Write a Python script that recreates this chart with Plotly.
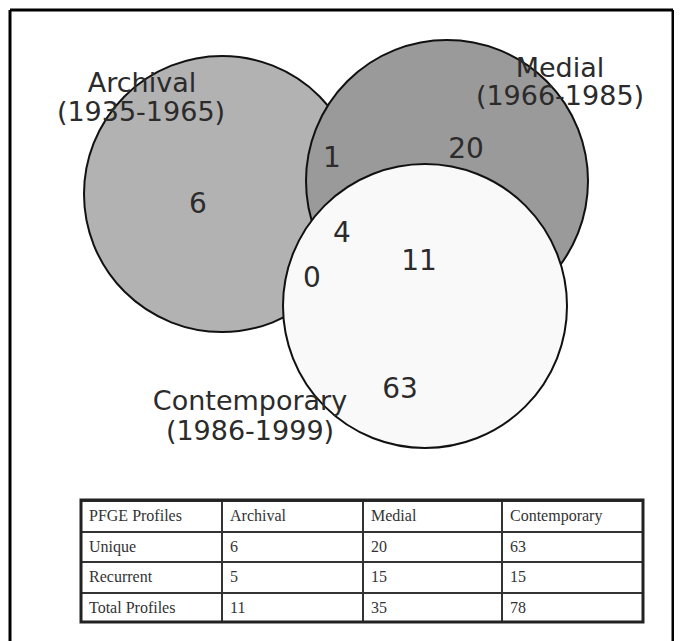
import plotly.graph_objects as go

# ---- data ----
set_names = ["Archival", "Medial", "Contemporary"]
set_periods = ["(1935-1965)", "(1966-1985)", "(1986-1999)"]
region_names = ["A only", "A&M", "M only", "A&M&C", "M&C", "A&C", "C only"]
region_counts = [6, 1, 20, 4, 11, 0, 63]

table_header = ["PFGE Profiles", "Archival", "Medial", "Contemporary"]
row_labels = ["Unique", "Recurrent", "Total Profiles"]
archival_vals = [6, 5, 11]
medial_vals = [20, 15, 35]
contemporary_vals = [63, 15, 78]

# ---- layout (reference pixel coordinates; page body has an 8px margin) ----
PW, PH = 682, 641
OFF = 8
W, H = PW - OFF, PH - OFF
circles = {  # cx, cy, r, fill
    "Archival": (222, 194, 138, "#b2b2b2"),
    "Medial": (447, 181, 141, "#9a9a9a"),
    "Contemporary": (425, 306, 142, "#f9f9f9"),
}
region_pos = [(198, 206), (332, 160), (466, 151), (342, 235), (419, 263), (312, 280), (400, 391)]
label_pos = {
    "Archival": [(142, 85), (141, 114)],
    "Medial": [(560, 70), (560, 98)],
    "Contemporary": [(250, 403), (250, 433)],
}


def px_x(x):
    return (x - OFF) / W


def px_y(y):
    return 1 - (y - OFF) / H


fig = go.Figure()

shapes = []
for name in set_names:
    cx, cy, r, fill = circles[name]
    shapes.append(dict(type="circle", xref="x", yref="y", x0=cx - r, x1=cx + r,
                       y0=cy - r, y1=cy + r, fillcolor=fill,
                       line=dict(color="#111111", width=2), layer="below"))

# outer frame
frame = dict(color="black", width=3)
shapes.append(dict(type="line", xref="x", yref="y", x0=10, x1=10, y0=10, y1=PH, line=frame))
shapes.append(dict(type="line", xref="x", yref="y", x0=10, x1=673, y0=10, y1=10, line=frame))
shapes.append(dict(type="line", xref="x", yref="y", x0=673, x1=673, y0=10, y1=PH, line=frame))

# region counts
fig.add_trace(go.Scatter(
    x=[p[0] for p in region_pos], y=[p[1] for p in region_pos],
    text=[str(v) for v in region_counts], mode="text",
    textfont=dict(family="DejaVu Sans", size=28, color="#2b2b2b"),
    hoverinfo="skip", showlegend=False))

# set labels
lx, ly, lt = [], [], []
for name, period in zip(set_names, set_periods):
    (x1, y1), (x2, y2) = label_pos[name]
    lx += [x1, x2]
    ly += [y1, y2]
    lt += [name, period]
fig.add_trace(go.Scatter(
    x=lx, y=ly, text=lt, mode="text",
    textfont=dict(family="DejaVu Sans", size=27, color="#2b2b2b"),
    hoverinfo="skip", showlegend=False))

# table
tbl_left, tbl_right, tbl_top, tbl_bottom = 81, 643, 500, 622
cells = [
    [table_header[0]] + row_labels,
    [table_header[1]] + [str(v) for v in archival_vals],
    [table_header[2]] + [str(v) for v in medial_vals],
    [table_header[3]] + [str(v) for v in contemporary_vals],
]
fig.add_trace(go.Table(
    domain=dict(x=[px_x(tbl_left), px_x(tbl_right)], y=[px_y(tbl_bottom), px_y(tbl_top)]),
    columnwidth=[141, 141, 139, 141],
    header=dict(values=["", "", "", ""], height=1, line=dict(width=0), fill=dict(color="white")),
    cells=dict(values=cells, height=30.5, align="left",
               fill=dict(color="white"),
               line=dict(color="#333333", width=2),
               font=dict(family="Liberation Serif", size=16, color="#333333")),
))

shapes.append(dict(type="rect", xref="x", yref="y",
                   x0=tbl_left, x1=tbl_right, y0=tbl_top, y1=tbl_bottom,
                   line=dict(color="#222222", width=3), layer="above"))

fig.update_layout(
    width=W, height=H, autosize=False,
    margin=dict(l=0, r=0, t=0, b=0),
    paper_bgcolor="white", plot_bgcolor="white",
    xaxis=dict(range=[OFF, PW], visible=False, fixedrange=True),
    yaxis=dict(range=[PH, OFF], visible=False, fixedrange=True),
    shapes=shapes,
    showlegend=False,
)

fig.write_html("out.html")
